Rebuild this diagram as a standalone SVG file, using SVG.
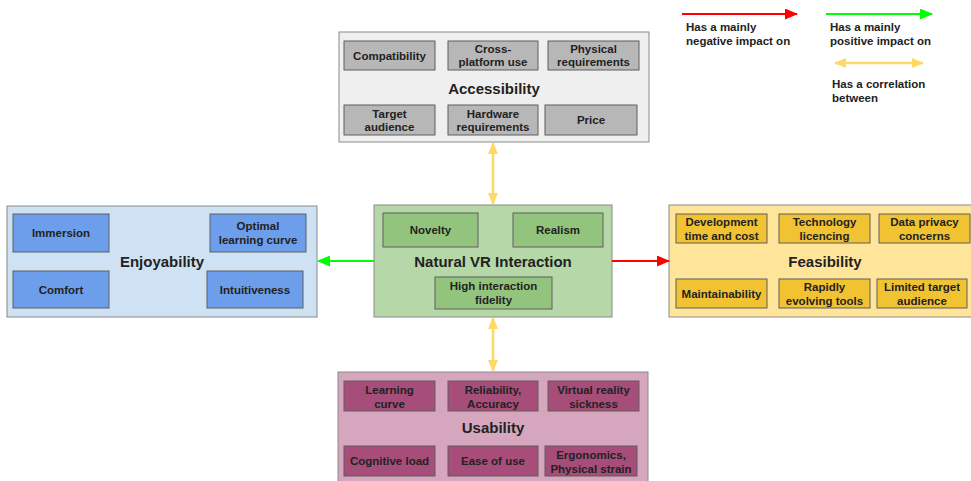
<svg xmlns="http://www.w3.org/2000/svg" width="971" height="481" viewBox="0 0 971 481">
  <style>
    text { font-family: "Liberation Sans", Arial, sans-serif; font-weight: bold; fill: #222; text-anchor: middle; }
    .item { font-size: 11.5px; }
    .title { font-size: 15px; }
    .legend { font-size: 11.5px; text-anchor: start; }
    .outer { stroke: #8a8a8a; stroke-width: 1; }
    .inner { stroke: #5f5f5f; stroke-width: 1; }
    .acc-o { fill: #efefef; } .acc-i { fill: #b7b7b7; }
    .enj-o { fill: #cfe2f3; } .enj-i { fill: #6d9eeb; }
    .nat-o { fill: #b6d7a8; } .nat-i { fill: #93c47d; }
    .fea-o { fill: #ffe599; } .fea-i { fill: #f1c232; }
    .usa-o { fill: #d5a6bd; } .usa-i { fill: #a64d79; }
    .neg { stroke: #ff0000; stroke-width: 2; fill: none; }
    .pos { stroke: #00ff00; stroke-width: 2; fill: none; }
    .cor { stroke: #ffd966; stroke-width: 2.5; fill: none; }
  </style>
  <defs>
    <marker id="headRed" markerWidth="13" markerHeight="11" refX="12" refY="5.5" orient="auto" markerUnits="userSpaceOnUse">
      <path d="M0,0 L13,5.5 L0,11 Z" fill="#ff0000"/>
    </marker>
    <marker id="headGreen" markerWidth="13" markerHeight="11" refX="12" refY="5.5" orient="auto" markerUnits="userSpaceOnUse">
      <path d="M0,0 L13,5.5 L0,11 Z" fill="#00ff00"/>
    </marker>
    <marker id="headYellow" markerWidth="12" markerHeight="10" refX="11" refY="5" orient="auto-start-reverse" markerUnits="userSpaceOnUse">
      <path d="M0,0 L12,5 L0,10 Z" fill="#ffd966"/>
    </marker>
  </defs>

  <rect width="971" height="481" fill="#ffffff"/>

  <!-- Accessibility -->
  <g id="accessibility">
    <rect class="outer acc-o" x="339" y="32" width="310" height="110"/>
    <rect class="inner acc-i" x="344" y="41" width="91" height="29"/>
    <text class="item" x="389.5" y="60">Compatibility</text>
    <rect class="inner acc-i" x="448" y="41" width="90" height="29"/>
    <text class="item" x="493" y="53">Cross-</text>
    <text class="item" x="493" y="66">platform use</text>
    <rect class="inner acc-i" x="548" y="41" width="91" height="29"/>
    <text class="item" x="593.5" y="53">Physical</text>
    <text class="item" x="593.5" y="66">requirements</text>
    <text class="title" x="494" y="94">Accessibility</text>
    <rect class="inner acc-i" x="344" y="105" width="91" height="30"/>
    <text class="item" x="389.5" y="118">Target</text>
    <text class="item" x="389.5" y="131">audience</text>
    <rect class="inner acc-i" x="448" y="105" width="90" height="30"/>
    <text class="item" x="493" y="118">Hardware</text>
    <text class="item" x="493" y="131">requirements</text>
    <rect class="inner acc-i" x="545" y="105" width="92" height="30"/>
    <text class="item" x="591" y="124">Price</text>
  </g>

  <!-- Enjoyability -->
  <g id="enjoyability">
    <rect class="outer enj-o" x="7" y="206" width="310" height="111"/>
    <rect class="inner enj-i" x="13" y="214" width="96" height="38"/>
    <text class="item" x="61" y="237">Immersion</text>
    <rect class="inner enj-i" x="210" y="214" width="96" height="38"/>
    <text class="item" x="258" y="230">Optimal</text>
    <text class="item" x="258" y="244">learning curve</text>
    <text class="title" x="162" y="267">Enjoyability</text>
    <rect class="inner enj-i" x="13" y="271" width="96" height="37"/>
    <text class="item" x="61" y="294">Comfort</text>
    <rect class="inner enj-i" x="207" y="271" width="96" height="37"/>
    <text class="item" x="255" y="294">Intuitiveness</text>
  </g>

  <!-- Natural VR Interaction -->
  <g id="natural-vr-interaction">
    <rect class="outer nat-o" x="374" y="205" width="238" height="112"/>
    <rect class="inner nat-i" x="383" y="213" width="95" height="34"/>
    <text class="item" x="430.5" y="234">Novelty</text>
    <rect class="inner nat-i" x="513" y="213" width="90" height="34"/>
    <text class="item" x="558" y="234">Realism</text>
    <text class="title" x="493" y="267">Natural VR Interaction</text>
    <rect class="inner nat-i" x="435" y="277" width="117" height="32"/>
    <text class="item" x="493.5" y="290">High interaction</text>
    <text class="item" x="493.5" y="304">fidelity</text>
  </g>

  <!-- Feasibility -->
  <g id="feasibility">
    <rect class="outer fea-o" x="669" y="205" width="310" height="112"/>
    <rect class="inner fea-i" x="676" y="214" width="91" height="29"/>
    <text class="item" x="721.5" y="226">Development</text>
    <text class="item" x="721.5" y="240">time and cost</text>
    <rect class="inner fea-i" x="779" y="214" width="91" height="29"/>
    <text class="item" x="824.5" y="226">Technology</text>
    <text class="item" x="824.5" y="240">licencing</text>
    <rect class="inner fea-i" x="879" y="214" width="91" height="29"/>
    <text class="item" x="924.5" y="226">Data privacy</text>
    <text class="item" x="924.5" y="240">concerns</text>
    <text class="title" x="825" y="267">Feasibility</text>
    <rect class="inner fea-i" x="676" y="279" width="91" height="29"/>
    <text class="item" x="721.5" y="298">Maintainability</text>
    <rect class="inner fea-i" x="779" y="279" width="91" height="29"/>
    <text class="item" x="824.5" y="291">Rapidly</text>
    <text class="item" x="824.5" y="305">evolving tools</text>
    <rect class="inner fea-i" x="877" y="279" width="90" height="29"/>
    <text class="item" x="922" y="291">Limited target</text>
    <text class="item" x="922" y="305">audience</text>
  </g>

  <!-- Usability -->
  <g id="usability">
    <rect class="outer usa-o" x="338" y="372" width="310" height="115"/>
    <rect class="inner usa-i" x="344" y="381" width="91" height="30"/>
    <text class="item" x="389.5" y="394">Learning</text>
    <text class="item" x="389.5" y="408">curve</text>
    <rect class="inner usa-i" x="448" y="381" width="90" height="30"/>
    <text class="item" x="493" y="394">Reliability,</text>
    <text class="item" x="493" y="408">Accuracy</text>
    <rect class="inner usa-i" x="548" y="381" width="91" height="30"/>
    <text class="item" x="593.5" y="394">Virtual reality</text>
    <text class="item" x="593.5" y="408">sickness</text>
    <text class="title" x="493" y="433">Usability</text>
    <rect class="inner usa-i" x="344" y="446" width="91" height="30"/>
    <text class="item" x="389.5" y="465">Cognitive load</text>
    <rect class="inner usa-i" x="448" y="446" width="90" height="30"/>
    <text class="item" x="493" y="465">Ease of use</text>
    <rect class="inner usa-i" x="545" y="446" width="92" height="30"/>
    <text class="item" x="591" y="459">Ergonomics,</text>
    <text class="item" x="591" y="473">Physical strain</text>
  </g>

  <!-- Connectors -->
  <g id="connectors">
    <line class="cor" x1="493" y1="143" x2="493" y2="204" marker-start="url(#headYellow)" marker-end="url(#headYellow)"/>
    <line class="cor" x1="493" y1="318" x2="493" y2="371" marker-start="url(#headYellow)" marker-end="url(#headYellow)"/>
    <line class="pos" x1="374" y1="261" x2="318" y2="261" marker-end="url(#headGreen)"/>
    <line class="neg" x1="612" y1="261" x2="669" y2="261" marker-end="url(#headRed)"/>
  </g>

  <!-- Legend -->
  <g id="legend">
    <line class="neg" x1="682" y1="14" x2="797" y2="14" marker-end="url(#headRed)"/>
    <text class="legend" x="686" y="31">Has a mainly</text>
    <text class="legend" x="686" y="45">negative impact on</text>
    <line class="pos" x1="826" y1="14" x2="932" y2="14" marker-end="url(#headGreen)"/>
    <text class="legend" x="830" y="31">Has a mainly</text>
    <text class="legend" x="830" y="45">positive impact on</text>
    <line class="cor" x1="835" y1="63" x2="923" y2="63" marker-start="url(#headYellow)" marker-end="url(#headYellow)"/>
    <text class="legend" x="832" y="88">Has a correlation</text>
    <text class="legend" x="832" y="102">between</text>
  </g>
</svg>
